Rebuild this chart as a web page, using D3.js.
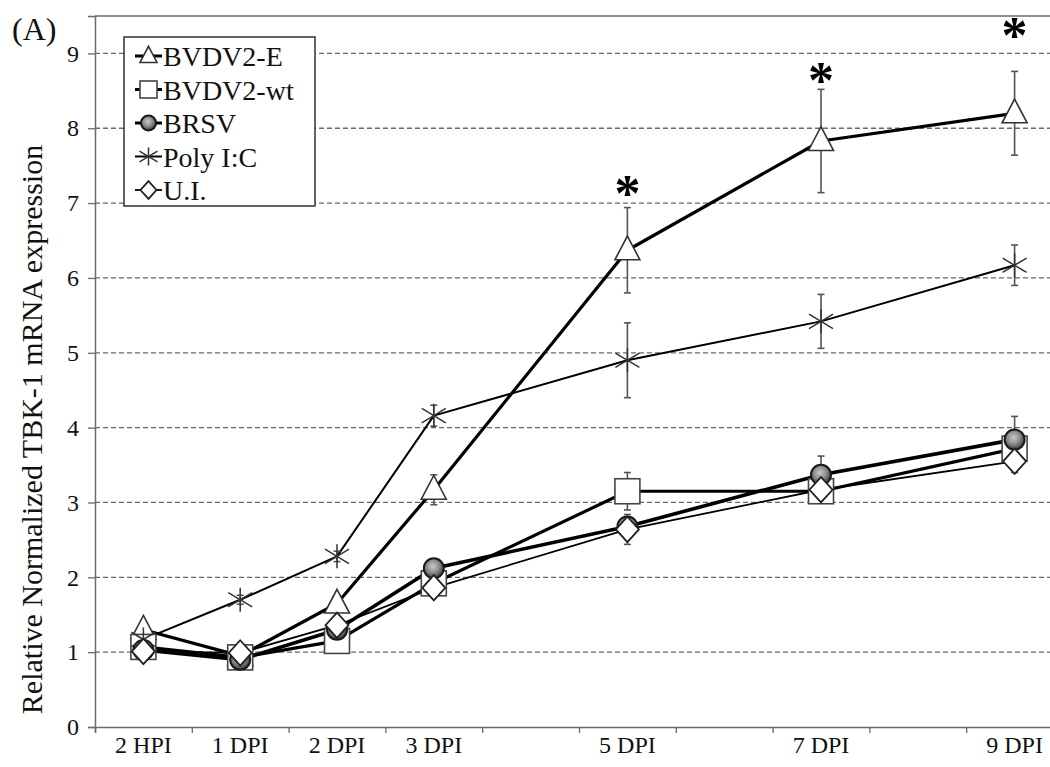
<!DOCTYPE html>
<html>
<head>
<meta charset="utf-8">
<script src="https://cdn.jsdelivr.net/npm/d3@7"></script>
<style>
  html, body { margin: 0; padding: 0; background: #fff; }
  svg { display: block; font-family: "Liberation Serif", "Times New Roman", serif; }
</style>
</head>
<body>
<svg id="chart" width="1050" height="767"></svg>
<script>
// Sampling times (days post infection; 2 HPI plotted at day 0)
const days = [0, 1, 2, 3, 5, 7, 9];
const timeLabels = ["2 HPI", "1 DPI", "2 DPI", "3 DPI", "5 DPI", "7 DPI", "9 DPI"];
const yTicks = [0, 1, 2, 3, 4, 5, 6, 7, 8, 9];

const seriesNames = ["BVDV2-E", "BVDV2-wt", "BRSV", "Poly I:C", "U.I."];

// Relative normalized TBK-1 mRNA expression (mean) and error (SD)
const bvdv2E     = [1.30, 0.95, 1.65, 3.17, 6.37, 7.83, 8.20];
const bvdv2EErr  = [0.05, 0.05, 0.08, 0.20, 0.57, 0.69, 0.56];
const bvdv2Wt    = [1.07, 0.93, 1.15, 1.92, 3.15, 3.15, 3.72];
const bvdv2WtErr = [0.05, 0.04, 0.05, 0.10, 0.25, 0.10, 0.20];
const brsv       = [1.03, 0.90, 1.30, 2.12, 2.68, 3.37, 3.84];
const brsvErr    = [0.05, 0.04, 0.05, 0.08, 0.10, 0.25, 0.31];
const polyIC     = [1.17, 1.70, 2.28, 4.16, 4.90, 5.42, 6.17];
const polyICErr  = [0.05, 0.06, 0.07, 0.14, 0.50, 0.36, 0.27];
const ui         = [1.01, 0.99, 1.36, 1.86, 2.64, 3.17, 3.55];
const uiErr      = [0.04, 0.04, 0.05, 0.08, 0.20, 0.10, 0.15];

// Significant differences (BVDV2-E) marked with an asterisk
const sigDays = [5, 7, 9];
const sigLevels = [7.25, 8.76, 9.36];

const seriesValues = [bvdv2E, bvdv2Wt, brsv, polyIC, ui];
const seriesErrors = [bvdv2EErr, bvdv2WtErr, brsvErr, polyICErr, uiErr];

const styles = [
  { marker: "triangle", lineWidth: 3.2 },
  { marker: "square",   lineWidth: 3.2 },
  { marker: "circle",   lineWidth: 3.6 },
  { marker: "star",     lineWidth: 2.0 },
  { marker: "diamond",  lineWidth: 1.8 }
];

const serif = "'Liberation Serif', 'Times New Roman', serif";
const svg = d3.select("#chart");

const plot = { left: 95, top: 16, bottom: 727 };
const x = d3.scaleLinear().domain([-0.5, 9.5]).range([plot.left, 1063]);
const y = d3.scaleLinear().domain([0, 9.5]).range([plot.bottom, plot.top]);

// Gradient for the BRSV circle marker
const defs = svg.append("defs");
const grad = defs.append("radialGradient").attr("id", "ballGrad")
  .attr("cx", "45%").attr("cy", "40%").attr("r", "60%");
grad.append("stop").attr("offset", "0%").attr("stop-color", "#c8c8c8");
grad.append("stop").attr("offset", "55%").attr("stop-color", "#8a8a8a");
grad.append("stop").attr("offset", "100%").attr("stop-color", "#3a3a3a");

// Horizontal dashed gridlines
svg.append("g").selectAll("line").data(yTicks.filter(d => d > 0)).join("line")
  .attr("x1", plot.left).attr("x2", 1063)
  .attr("y1", d => y(d)).attr("y2", d => y(d))
  .attr("stroke", "#6a6a6a").attr("stroke-width", 1.3)
  .attr("stroke-dasharray", "5,3");

// Plot frame (top)
svg.append("line").attr("x1", plot.left).attr("x2", 1063)
  .attr("y1", plot.top).attr("y2", plot.top)
  .attr("stroke", "#6a6a6a").attr("stroke-width", 1.3);

// Y axis
const yAxis = d3.axisLeft(y).tickValues(yTicks).tickSize(7).tickPadding(9).tickFormat(d3.format("d"));
const gy = svg.append("g").attr("transform", `translate(${plot.left},0)`).call(yAxis)
  .attr("font-family", serif).attr("font-size", 24);
gy.select(".domain").attr("stroke", "#6a6a6a").attr("stroke-width", 1.5);
gy.selectAll(".tick line").attr("stroke", "#6a6a6a").attr("stroke-width", 1.3);
gy.selectAll(".tick text").attr("fill", "#111");

// X axis: tick marks between sampling days, labels at sampling days
const boundaries = d3.range(-0.5, 9.6, 1);
const xAxis = d3.axisBottom(x).tickValues(boundaries).tickSize(6).tickFormat("");
const gx = svg.append("g").attr("transform", `translate(0,${plot.bottom})`).call(xAxis);
gx.select(".domain").attr("stroke", "#6a6a6a").attr("stroke-width", 1.5);
gx.selectAll(".tick line").attr("stroke", "#6a6a6a").attr("stroke-width", 1.3);

svg.append("g").selectAll("text").data(days).join("text")
  .attr("x", d => x(d)).attr("y", 753)
  .attr("text-anchor", "middle").attr("font-size", 24).attr("fill", "#111")
  .text((d, i) => timeLabels[i]);

// Y axis title
svg.append("text")
  .attr("transform", `translate(42,${(plot.top + plot.bottom) / 2 + 58}) rotate(-90)`)
  .attr("text-anchor", "middle").attr("font-size", 30).attr("fill", "#111")
  .text("Relative Normalized TBK-1 mRNA expression");

// Panel label
svg.append("text").attr("x", 12).attr("y", 40).attr("font-size", 32).attr("fill", "#111").text("(A)");

// Marker drawing
function drawMarker(g, type, cx, cy, s) {
  if (type === "triangle") {
    const h = s * 0.95;
    g.append("path")
      .attr("d", `M${cx},${cy - h * 0.6} L${cx + s / 2},${cy + h * 0.4} L${cx - s / 2},${cy + h * 0.4} Z`)
      .attr("fill", "#fff").attr("stroke", "#333").attr("stroke-width", 1.6);
  } else if (type === "square") {
    g.append("rect").attr("x", cx - s / 2).attr("y", cy - s / 2)
      .attr("width", s).attr("height", s)
      .attr("fill", "#fff").attr("stroke", "#444").attr("stroke-width", 1.6);
  } else if (type === "circle") {
    g.append("circle").attr("cx", cx).attr("cy", cy).attr("r", s / 2)
      .attr("fill", "url(#ballGrad)").attr("stroke", "#1a1a1a").attr("stroke-width", 2);
  } else if (type === "diamond") {
    const w = s * 0.5, h = s * 0.55;
    g.append("path")
      .attr("d", `M${cx},${cy - h} L${cx + w},${cy} L${cx},${cy + h} L${cx - w},${cy} Z`)
      .attr("fill", "#fff").attr("stroke", "#222").attr("stroke-width", 1.8);
  } else if (type === "star") {
    const r = s / 2;
    const a = r * 0.8;
    g.append("path")
      .attr("d", `M${cx - r},${cy - a * 0.75} L${cx + r},${cy + a * 0.75} M${cx - r},${cy + a * 0.75} L${cx + r},${cy - a * 0.75} M${cx},${cy - r} L${cx},${cy + r}`)
      .attr("fill", "none").attr("stroke", "#333").attr("stroke-width", 1.5);
  }
}

const markerSize = { triangle: 25, square: 25, circle: 20, diamond: 23, star: 24 };

const line = d3.line().x(d => x(d[0])).y(d => y(d[1]));

// Series lines
seriesValues.forEach((vals, si) => {
  svg.append("path")
    .datum(days.map((d, i) => [d, vals[i]]))
    .attr("d", line)
    .attr("fill", "none").attr("stroke", "#000")
    .attr("stroke-width", styles[si].lineWidth)
    .attr("stroke-linejoin", "round");
});

// Error bars
seriesValues.forEach((vals, si) => {
  const g = svg.append("g").attr("stroke", "#555").attr("stroke-width", 1.6);
  days.forEach((d, i) => {
    const cx = x(d), e = seriesErrors[si][i];
    g.append("line").attr("x1", cx).attr("x2", cx)
      .attr("y1", y(vals[i] - e)).attr("y2", y(vals[i] + e));
    [vals[i] - e, vals[i] + e].forEach(v => {
      g.append("line").attr("x1", cx - 3.5).attr("x2", cx + 3.5)
        .attr("y1", y(v)).attr("y2", y(v));
    });
  });
});

// Markers
seriesValues.forEach((vals, si) => {
  const g = svg.append("g");
  const t = styles[si].marker;
  days.forEach((d, i) => drawMarker(g, t, x(d), y(vals[i]), markerSize[t]));
});

// Significance asterisks
svg.append("g").selectAll("text").data(sigDays).join("text")
  .attr("x", d => x(d)).attr("y", (d, i) => y(sigLevels[i]) + 27)
  .attr("text-anchor", "middle").attr("font-size", 52).attr("font-weight", "bold")
  .attr("fill", "#000").text("*");

// Legend
const legend = svg.append("g");
legend.append("rect").attr("x", 124).attr("y", 37).attr("width", 191).attr("height", 169)
  .attr("fill", "#fff").attr("stroke", "#333").attr("stroke-width", 1.5);
const legendSize = { triangle: 17, square: 17, circle: 15, diamond: 16, star: 18 };
seriesNames.forEach((name, i) => {
  const cy = 56 + i * 33.5;
  legend.append("line").attr("x1", 135).attr("x2", 162).attr("y1", cy).attr("y2", cy)
    .attr("stroke", "#000").attr("stroke-width", Math.min(styles[i].lineWidth, 3));
  drawMarker(legend, styles[i].marker, 148.5, cy, legendSize[styles[i].marker]);
  legend.append("text").attr("x", 163).attr("y", cy + 10)
    .attr("font-size", 28).attr("fill", "#111").text(name);
});
</script>
</body>
</html>
